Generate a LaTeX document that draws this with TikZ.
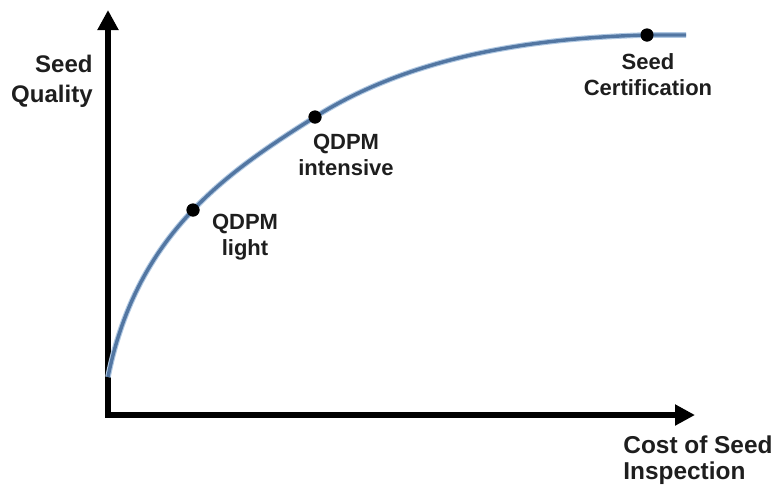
\documentclass[tikz,border=0pt]{standalone}
\usepackage{fontspec}
\setmainfont{Liberation Sans}
\usetikzlibrary{arrows.meta}

\definecolor{curveblue}{RGB}{82,118,162}
\definecolor{curvehalo}{RGB}{176,200,226}
\definecolor{labelgray}{RGB}{30,30,30}

\begin{document}
\begin{tikzpicture}[x=0.5pt,y=-0.5pt]
\useasboundingbox (0,0) rectangle (780,489);
\coordinate (YTop) at (108,10);
\coordinate (Origin) at (108,415);
\coordinate (XEnd) at (695,415);
\coordinate (CurveStart) at (108,377);
\coordinate (CurveEnd) at (686,35);
\begin{scope}[every node/.style={circle,fill=black,inner sep=0pt,minimum size=6.5pt}]
    \node (Light) at (193,210) {};
    \node (Intensive) at (315,117) {};
    \node (Cert) at (647,35) {};
\end{scope}
\begin{scope}[axis_line/.style={line width=3pt,line join=miter,
                  {Triangle[width=10pt,length=10pt]}-{Triangle[width=10pt,length=10pt]}},
              quality_curve/.style={line width=1.7pt,draw=curveblue,
                  preaction={draw=curvehalo,line width=2.8pt}}]
    \draw [axis_line] (YTop) -- (Origin) -- (XEnd);
    \draw [quality_curve] (CurveStart)
        .. controls (121,312) and (148,257) .. (Light.center)
        .. controls (228,173) and (272,144) .. (Intensive.center)
        .. controls (411,56) and (533,38) .. (Cert.center)
        -- (CurveEnd);
\end{scope}
% dots again on top of the curve
\begin{scope}[every node/.style={circle,fill=black,inner sep=0pt,minimum size=6.5pt}]
    \node at (Light) {};
    \node at (Intensive) {};
    \node at (Cert) {};
\end{scope}
\begin{scope}[every node/.style={text=labelgray,font=\bfseries\fontsize{11}{13}\selectfont,
                  inner sep=0pt,align=center}]
    \node (LightLabel) at (245,237) {QDPM\\light};
    \node (IntensiveLabel) at (346,155) {QDPM\\intensive};
    \node (CertLabel) at (648,75) {Seed\\Certification};
    \node [anchor=east,align=right,font=\bfseries\fontsize{12}{15}\selectfont] (YLabel) at (93,81) {Seed\\Quality};
    \node [anchor=west,align=left,font=\bfseries\fontsize{12.2}{13}\selectfont] (XLabel) at (623,460) {Cost of Seed\\Inspection};
\end{scope}
\end{tikzpicture}
\end{document}
